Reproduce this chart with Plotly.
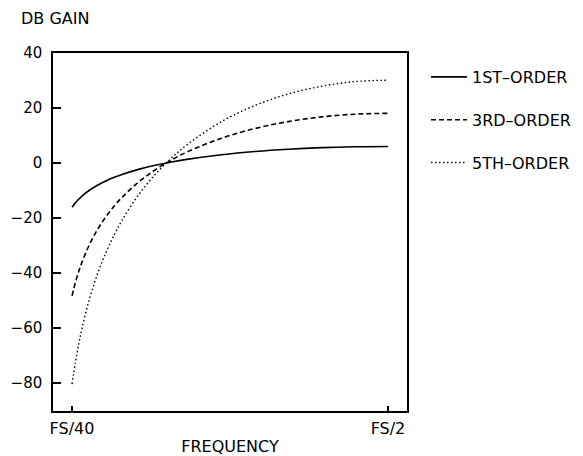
import plotly.graph_objects as go

# normalized frequency (f / fs), from FS/40 to FS/2
freq = [0.025, 0.03, 0.035, 0.04, 0.05, 0.0625, 0.075, 0.0875, 0.1, 0.125,
        0.15, 0.175, 0.2, 0.25, 0.3, 0.35, 0.4, 0.45, 0.5]

first_order = [-16.09, -14.51, -13.17, -12.02, -10.09, -8.17, -6.62, -5.31, -4.18,
               -2.32, -0.84, 0.38, 1.41, 3.01, 4.18, 5.02, 5.59, 5.91, 6.02]
third_order = [-48.27, -43.53, -39.51, -36.05, -30.27, -24.52, -19.85, -15.92, -12.54,
               -6.97, -2.51, 1.15, 4.22, 9.03, 12.54, 15.05, 16.76, 17.74, 18.06]
fifth_order = [-80.4, -72.6, -65.9, -60.1, -50.5, -40.9, -33.1, -26.6, -20.9,
               -11.6, -4.2, 1.9, 7.0, 15.1, 20.9, 25.1, 27.9, 29.6, 30.1]

series_names = ["1ST\u2013ORDER", "3RD\u2013ORDER", "5TH\u2013ORDER"]
x_tick_vals = [0.025, 0.5]
x_tick_text = ["FS/40", "FS/2"]
y_tick_vals = [-80, -60, -40, -20, 0, 20, 40]

FONT = "DejaVu Sans"
OFF = 8  # page body margin offset
W, H = 583 - OFF, 456 - OFF
L, T, R, B = 53 - OFF, 53 - OFF, W - (407 - OFF), H - (411 - OFF)
PW, PH = W - L - R, H - T - B

fig = go.Figure()
styles = [("solid", 1.6), ("5px,3px", 1.6), ("1.5px,2.5px", 1.4)]
for name, ys, (dash, w), grp in zip(series_names, [first_order, third_order, fifth_order],
                                    styles, ["a", "b", "c"]):
    fig.add_trace(go.Scatter(x=freq, y=ys, mode="lines", name=name,
                             line=dict(color="black", dash=dash, width=w, shape="spline"),
                             legendgroup=grp))

fig.update_layout(
    width=W, height=H,
    margin=dict(l=L, r=R, t=T, b=B, autoexpand=False),
    paper_bgcolor="white", plot_bgcolor="white",
    font=dict(family=FONT, size=15, color="black"),
    showlegend=True,
    legend=dict(x=(426 - 53) / PW, y=1 + (53 - 60) / PH, xanchor="left", yanchor="top",
                font=dict(family=FONT, size=16), tracegroupgap=19,
                bgcolor="rgba(0,0,0,0)", itemwidth=36, borderwidth=0),
    xaxis=dict(range=[-0.0036, 0.5286], showgrid=False, zeroline=False,
               showline=True, linecolor="black", linewidth=1.5, mirror=True,
               ticks="inside", ticklen=5, tickwidth=1.5, tickcolor="black",
               tickvals=x_tick_vals, ticktext=x_tick_text, automargin=False,
               tickfont=dict(size=16), ticklabelstandoff=2,
               title=dict(text="FREQUENCY", standoff=8, font=dict(size=16))),
    yaxis=dict(range=[-90.2, 40], showgrid=False, zeroline=False,
               showline=True, linecolor="black", linewidth=1.5, mirror=True,
               ticks="inside", ticklen=8, tickwidth=1.5, tickcolor="black",
               tickvals=y_tick_vals, ticklabelstandoff=6, automargin=False),
    annotations=[dict(text="DB GAIN", xref="paper", yref="paper",
                      x=(19 - 53) / PW, y=1 + (53 - 18) / PH, xanchor="left", yanchor="middle",
                      showarrow=False, font=dict(family=FONT, size=16))],
)

fig.write_html("out.html")
